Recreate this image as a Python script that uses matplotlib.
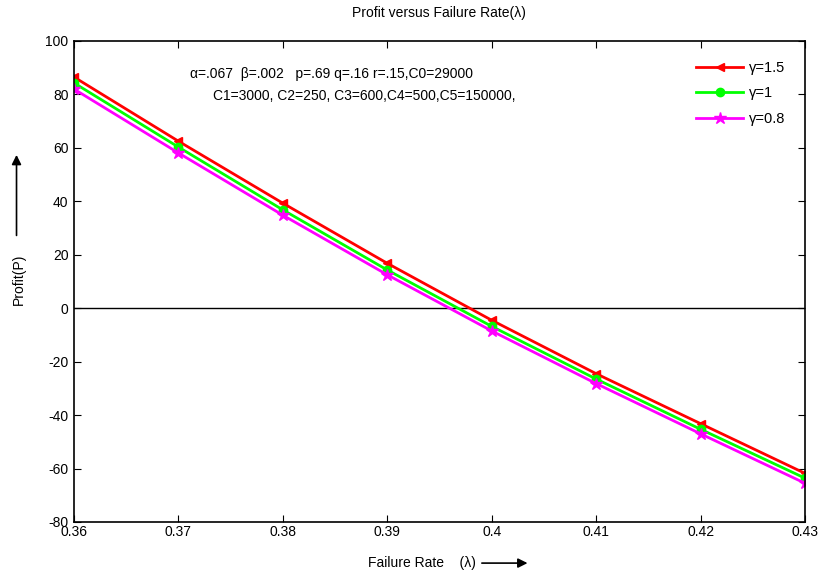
import matplotlib
matplotlib.use('Agg')
import matplotlib.pyplot as plt
import numpy as np

plt.rcParams['font.family'] = ['Liberation Sans', 'DejaVu Sans']
plt.rcParams['axes.unicode_minus'] = False

rate = [0.36, 0.37, 0.38, 0.39, 0.40, 0.41, 0.42, 0.43]
profit_g15 = [86.5, 62.5, 39.3, 16.8, -4.5, -24.5, -43.2, -61.8]
profit_g1 = [84.3, 60.3, 36.8, 14.3, -6.8, -26.5, -45.3, -63.6]
profit_g08 = [82.0, 58.1, 34.8, 12.5, -8.5, -28.2, -47.0, -65.5]

xticks = [0.36, 0.37, 0.38, 0.39, 0.40, 0.41, 0.42, 0.43]
xticklabels = ['0.36', '0.37', '0.38', '0.39', '0.4', '0.41', '0.42', '0.43']
yticks = [-80, -60, -40, -20, 0, 20, 40, 60, 80, 100]

fig = plt.figure(figsize=(8.26, 5.74), dpi=100)
ax = fig.add_axes([0.0896, 0.0906, 0.885, 0.838])

ax.axhline(0, color='k', lw=1)
ax.plot(rate, profit_g15, color='red', lw=2, marker='<', ms=6, label='\u03b3=1.5')
ax.plot(rate, profit_g1, color='#00ff00', lw=2, marker='o', ms=6, label='\u03b3=1')
ax.plot(rate, profit_g08, color='magenta', lw=2, marker='*', ms=9, label='\u03b3=0.8')

ax.set_xlim(0.36, 0.43)
ax.set_ylim(-80, 100)
ax.set_xticks(xticks)
ax.set_xticklabels(xticklabels)
ax.set_yticks(yticks)
ax.tick_params(direction='in', top=True, right=True, labelsize=10, length=5)
ax.tick_params(axis='y', pad=4)
ax.tick_params(axis='x', pad=2)
for s in ax.spines.values():
    s.set_linewidth(1.2)

fig.text(0.532, 0.977, 'Profit versus Failure Rate(\u03bb)', fontsize=10, ha='center', va='center')

ax.text(0.36 + 0.07 * 0.158, 87.5, '\u03b1=.067  \u03b2=.002   p=.69 q=.16 r=.15,C0=29000',
        fontsize=10, va='center')
ax.text(0.36 + 0.07 * 0.190, 79.5, 'C1=3000, C2=250, C3=600,C4=500,C5=150000,',
        fontsize=10, va='center')

leg = ax.legend(loc='upper right', frameon=False, fontsize=10.5, handlelength=3.2,
                borderaxespad=0.95, labelspacing=0.8, handletextpad=0.4)

# axis labels with arrows
fig.text(0.445, 0.019, 'Failure Rate    (\u03bb)', fontsize=10, ha='left', va='center')
fig.add_artist(matplotlib.patches.FancyArrowPatch(
    (0.580, 0.019), (0.642, 0.019), transform=fig.transFigure,
    arrowstyle='-|>', mutation_scale=14, color='k', lw=1.2))
fig.text(0.023, 0.514, 'Profit(P)', fontsize=10, rotation=90, ha='center', va='center')
fig.add_artist(matplotlib.patches.FancyArrowPatch(
    (0.020, 0.585), (0.020, 0.735), transform=fig.transFigure,
    arrowstyle='-|>', mutation_scale=14, color='k', lw=1.2))

fig.savefig('out.png', dpi=100)
